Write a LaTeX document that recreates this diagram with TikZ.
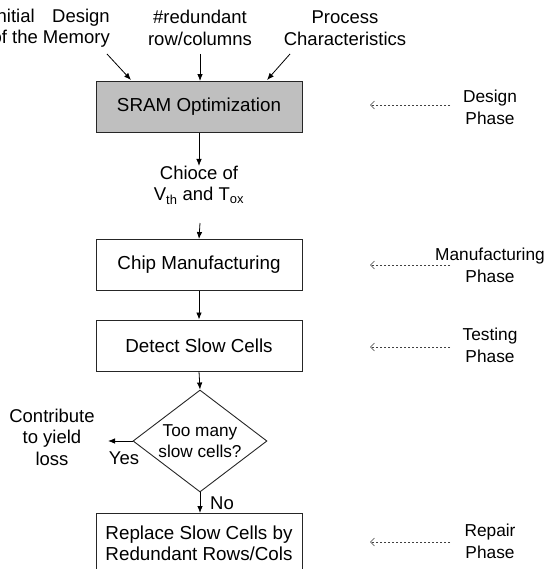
\documentclass[tikz,border=0pt]{standalone}
\usepackage{fontspec}
\setmainfont{Liberation Sans}
\usepackage{calc}
\usetikzlibrary{arrows.meta,shapes.geometric}

\tikzset{
  txt/.style={font=\fontsize{18.5}{21.5}\selectfont, inner sep=0pt, align=center},
  sidetxt/.style={txt, font=\fontsize{17.3}{22}\selectfont},
  stepbox/.style={draw=black!85, line width=0.9pt, minimum width=206pt, minimum height=51pt, txt, font=\fontsize{18.8}{21.5}\selectfont},
  decision/.style={draw=black!85, line width=0.9pt, diamond, aspect=1.31, minimum width=134pt, minimum height=102pt, inner sep=0pt, txt, font=\fontsize{17.2}{21.5}\selectfont},
  flow/.style={line width=0.8pt, -{Latex[length=7pt,width=5.5pt]}},
  phase/.style={draw=black!75, line width=0.6pt, dash pattern=on 2.5pt off 1.5pt, -{Straight Barb[length=4pt,width=8pt]}},
}

\begin{document}
\begin{tikzpicture}[x=1pt,y=-1pt]
  \useasboundingbox (0,0) rectangle (556,569);

  % inputs to the optimisation step
  \node[txt, anchor=east] (init) at (110,28)
    {\makebox[\widthof{of the Memory}][s]{Initial Design}\\of the Memory};
  \node[txt] (red) at (200,28) {\#redundant\\row/columns};
  \node[txt] (proc) at (345,28) {Process\\Characteristics};

  % main flow
  \node[stepbox, fill=black!25] (sram) at (199,107) {SRAM Optimization};
  \node[txt] (choice) at (199,185) {Chioce of\\V\textsubscript{th} and T\textsubscript{ox}};
  \node[stepbox] (chip) at (199,265) {Chip Manufacturing};
  \node[stepbox] (detect) at (199,345.5) {Detect Slow Cells};
  \node[decision] (dec) at (200,441) {Too many\\slow cells?};
  \node[stepbox, minimum height=60pt, anchor=north] (repair) at (199,513)
    {Replace Slow Cells by\\Redundant Rows/Cols};
  \node[txt] (loss) at (52,437) {Contribute\\to yield\\loss};
  \coordinate (lossin) at (108,441);

  \node[txt] at (124,458) {Yes};
  \node[txt] at (222,503) {No};

  \draw[flow] (107,54) -- (131,80);
  \draw[flow] (red.south |- 0,54) -- (sram.north -| red.south);
  \draw[flow] (290,54) -- (267,80);

  \draw[flow] (sram.south) -- (199,166);
  \draw[flow] (200,223) -- (chip.north);
  \draw[flow] (chip) -- (detect);
  \draw[flow] (detect.south) -- (dec.north);
  \draw[flow] (dec.west) -- (lossin);
  \draw[flow] (dec.south) -- (dec.south |- repair.north);

  % development phases
  \node[sidetxt] (pdes) at (490,107) {Design\\Phase};
  \node[sidetxt] (pman) at (490,265) {Manufacturing\\Phase};
  \node[sidetxt] (ptest) at (490,345) {Testing\\Phase};
  \node[sidetxt] (prep) at (490,541) {Repair\\Phase};
  \coordinate (a1) at (370,105);
  \coordinate (a2) at (370,265);
  \coordinate (a3) at (370,347);
  \coordinate (a4) at (370,542);
  \draw[phase] (450,105) -- (a1);
  \draw[phase] (450,265) -- (a2);
  \draw[phase] (450,347) -- (a3);
  \draw[phase] (450,542) -- (a4);
\end{tikzpicture}
\end{document}
